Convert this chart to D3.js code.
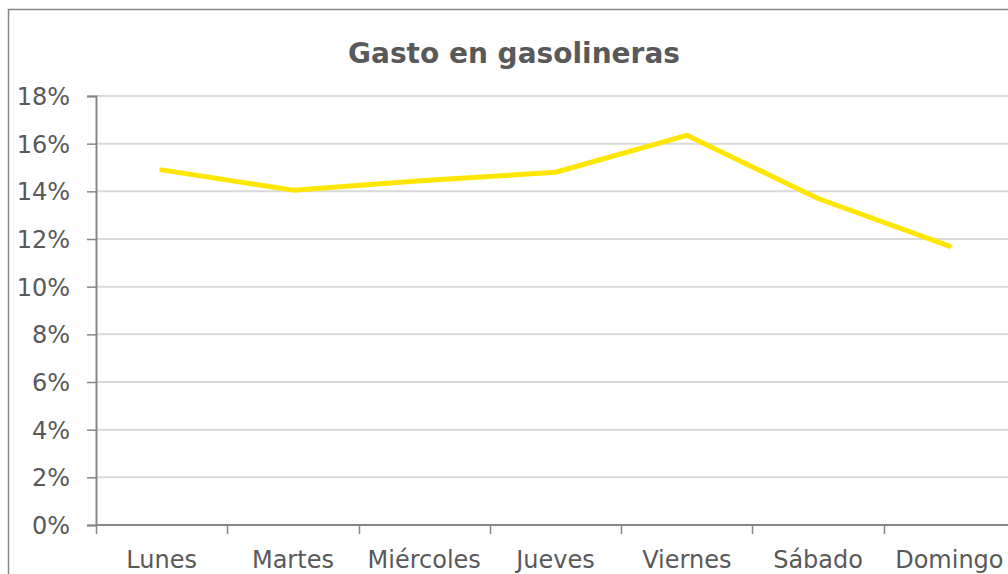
<!DOCTYPE html>
<html>
<head>
<meta charset="utf-8">
<script src="https://cdn.jsdelivr.net/npm/d3@7.9.0/dist/d3.min.js"></script>
<style>
  html, body { margin: 0; padding: 0; background: #fff; }
  svg { display: block; }
  text { font-family: Tahoma, "DejaVu Sans", sans-serif; fill: #595959; }
</style>
</head>
<body>
<div id="chart"></div>
<script>
// data
const days = ["Lunes", "Martes", "Miércoles", "Jueves", "Viernes", "Sábado", "Domingo"];
const gasto = [0.149, 0.1405, 0.1445, 0.148, 0.1635, 0.137, 0.117];
const yTicks = [0, 0.02, 0.04, 0.06, 0.08, 0.10, 0.12, 0.14, 0.16, 0.18];
const title = "Gasto en gasolineras";

const width = 1008;
const height = 574;

// adjust: plot area (runs past the right edge like the reference)
const area = { left: 96, right: 1015, top: 96, bottom: 525 };

const svg = d3.select("#chart")
  .append("svg")
  .attr("width", width)
  .attr("height", height);

// outer chart border
svg.append("rect")
  .attr("x", 8.5)
  .attr("y", 9.5)
  .attr("width", 1020)
  .attr("height", 600)
  .attr("fill", "#fff")
  .attr("stroke", "#868686")
  .attr("stroke-width", 1.5);

const x = d3.scaleBand()
  .domain(days)
  .range([area.left, area.right]);

const y = d3.scaleLinear()
  .domain([0, 0.18])
  .range([area.bottom, area.top]);

// gridlines
svg.append("g")
  .selectAll("line")
  .data(yTicks.filter(d => d > 0))
  .join("line")
  .attr("x1", area.left)
  .attr("x2", width)
  .attr("y1", d => y(d))
  .attr("y2", d => y(d))
  .attr("stroke", "#d9d9d9")
  .attr("stroke-width", 2);

// y axis
const yAxis = svg.append("g")
  .attr("transform", `translate(${area.left},0)`)
  .call(d3.axisLeft(y).tickValues(yTicks).tickFormat(d3.format(".0%")).tickSize(9).tickPadding(17));
yAxis.select(".domain").attr("stroke", "#868686").attr("stroke-width", 2);
yAxis.selectAll(".tick line").attr("stroke", "#868686").attr("stroke-width", 1.5);
yAxis.selectAll("text").style("font-size", "24px").attr("dy", "0.35em").attr("fill", "#595959");

// x axis line + ticks at band edges
svg.append("line")
  .attr("x1", area.left)
  .attr("x2", width)
  .attr("y1", area.bottom)
  .attr("y2", area.bottom)
  .attr("stroke", "#868686")
  .attr("stroke-width", 2);

svg.append("g")
  .selectAll("line")
  .data(days)
  .join("line")
  .attr("x1", d => Math.round(x(d)) + 0.5)
  .attr("x2", d => Math.round(x(d)) + 0.5)
  .attr("y1", area.bottom)
  .attr("y2", area.bottom + 9)
  .attr("stroke", "#868686")
  .attr("stroke-width", 1.5);

svg.append("g")
  .selectAll("text")
  .data(days)
  .join("text")
  .attr("x", d => x(d) + x.bandwidth() / 2)
  .attr("y", 568)
  .attr("text-anchor", "middle")
  .style("font-size", "24px")
  .text(d => d);

// line
const line = d3.line()
  .x((d, i) => x(days[i]) + x.bandwidth() / 2)
  .y(d => y(d));

svg.append("path")
  .datum(gasto)
  .attr("d", line)
  .attr("fill", "none")
  .attr("stroke", "#ffe600")
  .attr("stroke-width", 5)
  .attr("stroke-linecap", "round")
  .attr("stroke-linejoin", "round");

// title
svg.append("text")
  .attr("x", 514)
  .attr("y", 63)
  .attr("text-anchor", "middle")
  .style("font-size", "28px")
  .style("font-weight", "bold")
  .text(title);
</script>
</body>
</html>
